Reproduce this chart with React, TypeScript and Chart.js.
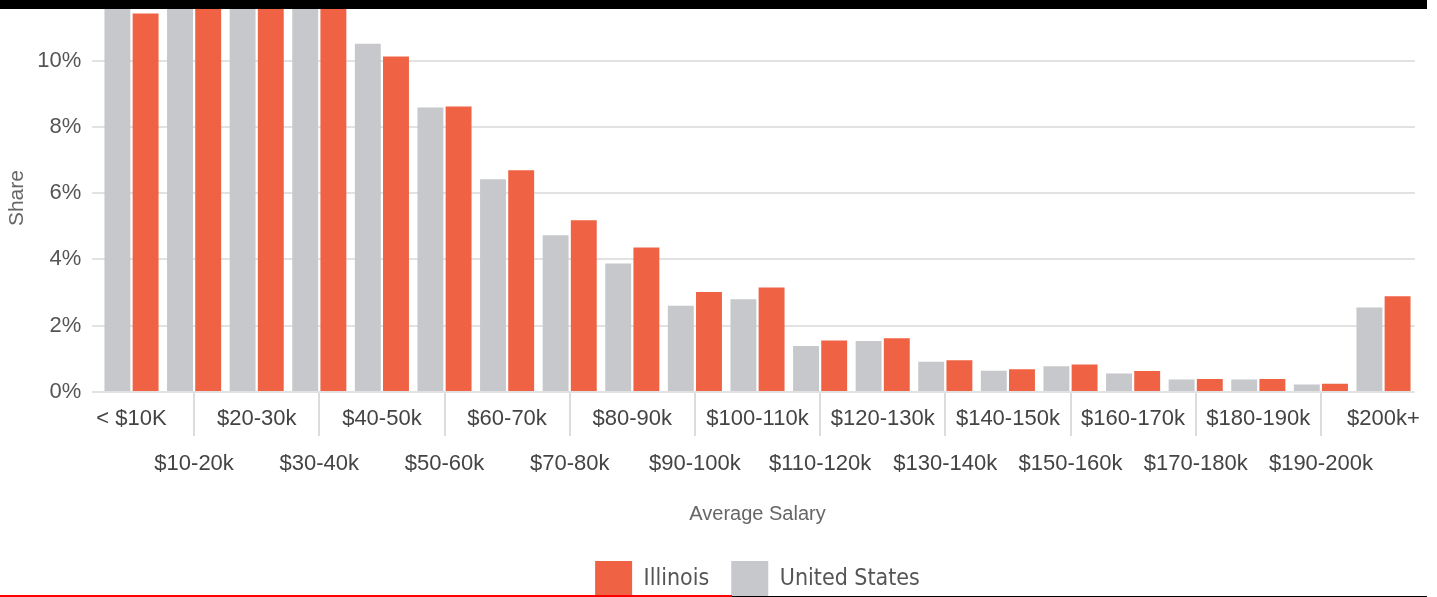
import React, { useEffect, useRef } from "react";
import { Chart, registerables } from "chart.js";

Chart.register(...registerables);

const categories = [
  "< $10K", "$10-20k", "$20-30k", "$30-40k", "$40-50k", "$50-60k", "$60-70k",
  "$70-80k", "$80-90k", "$90-100k", "$100-110k", "$110-120k", "$120-130k",
  "$130-140k", "$140-150k", "$150-160k", "$160-170k", "$170-180k", "$180-190k",
  "$190-200k", "$200k+",
];

const unitedStates = [
  11.9, 13.6, 13.0, 12.1, 10.51, 8.58, 6.42, 4.73, 3.88, 2.6, 2.8, 1.39, 1.54,
  0.91, 0.64, 0.78, 0.56, 0.38, 0.38, 0.23, 2.55,
];

const illinois = [
  11.42, 13.9, 13.2, 12.3, 10.12, 8.61, 6.69, 5.18, 4.36, 3.02, 3.15, 1.55, 1.62,
  0.96, 0.69, 0.83, 0.63, 0.39, 0.39, 0.25, 2.89,
];

const yTickValues = [0, 2, 4, 6, 8, 10];

const RED = "#EF6244";
const GRAY = "#C7C8CB";
const TICK_FONT = "'Liberation Sans', Arial, sans-serif";

export default function App() {
  const canvasRef = useRef<HTMLCanvasElement | null>(null);

  useEffect(() => {
    if (!canvasRef.current) return;
    const chart = new Chart(canvasRef.current, {
      type: "bar",
      data: {
        labels: categories,
        datasets: [
          {
            label: "United States",
            data: unitedStates,
            backgroundColor: GRAY,
            borderWidth: 0,
            categoryPercentage: 0.9,
            barPercentage: 0.92,
          },
          {
            label: "Illinois",
            data: illinois,
            backgroundColor: RED,
            borderWidth: 0,
            categoryPercentage: 0.9,
            barPercentage: 0.92,
          },
        ],
      },
      options: {
        animation: false,
        responsive: false,
        maintainAspectRatio: false,
        layout: { padding: { top: 23.6, right: 22.2, left: 0, bottom: 0 } },
        plugins: {
          tooltip: { enabled: false },
          legend: {
            position: "bottom",
            fullSize: false,
            reverse: true,
            labels: {
              boxWidth: 37,
              boxHeight: 37,
              padding: 22,
              color: "#555",
              font: { family: "'Liberation Sans Narrow', 'DejaVu Sans Condensed', sans-serif", size: 23 },
            },
          },
        },
        scales: {
          x: {
            offset: true,
            border: { display: false },
            grid: {
              offset: false,
              drawOnChartArea: false,
              drawTicks: true,
              tickLength: 44,
              lineWidth: 2,
              color: (ctx: any) => (ctx.index % 2 === 1 ? "#dcdcdc" : "rgba(0,0,0,0)"),
            },
            ticks: {
              autoSkip: false,
              maxRotation: 0,
              minRotation: 0,
              padding: -39.5,
              color: "#444",
              font: { family: TICK_FONT, size: 22, lineHeight: 45 / 22 },
              callback: (_v: any, index: number) =>
                index % 2 === 1 ? ["", categories[index]] : categories[index],
            },
            title: {
              display: true,
              text: "Average Salary",
              color: "#666",
              font: { family: TICK_FONT, size: 20 },
              padding: { top: 15, bottom: 13 },
            },
            afterFit: (scale: any) => {
              scale.height = 147;
            },
          },
          y: {
            min: 0,
            max: 11.7,
            border: { display: false },
            grid: {
              color: "#e2e2e2",
              lineWidth: 2,
              drawTicks: true,
              tickLength: 8,
            },
            ticks: {
              stepSize: 2,
              padding: 11,
              color: "#555",
              font: { family: TICK_FONT, size: 22 },
              callback: (v: any) => v + "%",
            },
            afterBuildTicks: (scale: any) => {
              scale.ticks = yTickValues.map((v) => ({ value: v }));
            },
            title: {
              display: true,
              text: "Share",
              color: "#666",
              font: { family: TICK_FONT, size: 21 },
              padding: { top: 4.4, bottom: 4 },
            },
            afterFit: (scale: any) => {
              scale.width = 100.2;
            },
          },
        },
      },
    });
    return () => chart.destroy();
  }, []);

  return (
    <div
      style={{
        position: "fixed",
        left: 0,
        top: 0,
        width: 1437,
        height: 597,
        overflow: "hidden",
        background: "#fff",
      }}
    >
      <div style={{ position: "absolute", left: 0, top: -20, width: 1437, height: 628 }}>
        <canvas ref={canvasRef} width={1437} height={628} style={{ width: 1437, height: 628 }} />
      </div>
      <div style={{ position: "absolute", left: 0, top: 0, width: 1427, height: 9, background: "#000" }} />
      <div style={{ position: "absolute", left: 0, top: 595, width: 732, height: 2, background: "#ff0000" }} />
      <div style={{ position: "absolute", left: 732, top: 596, width: 695, height: 1, background: "#000" }} />
    </div>
  );
}
